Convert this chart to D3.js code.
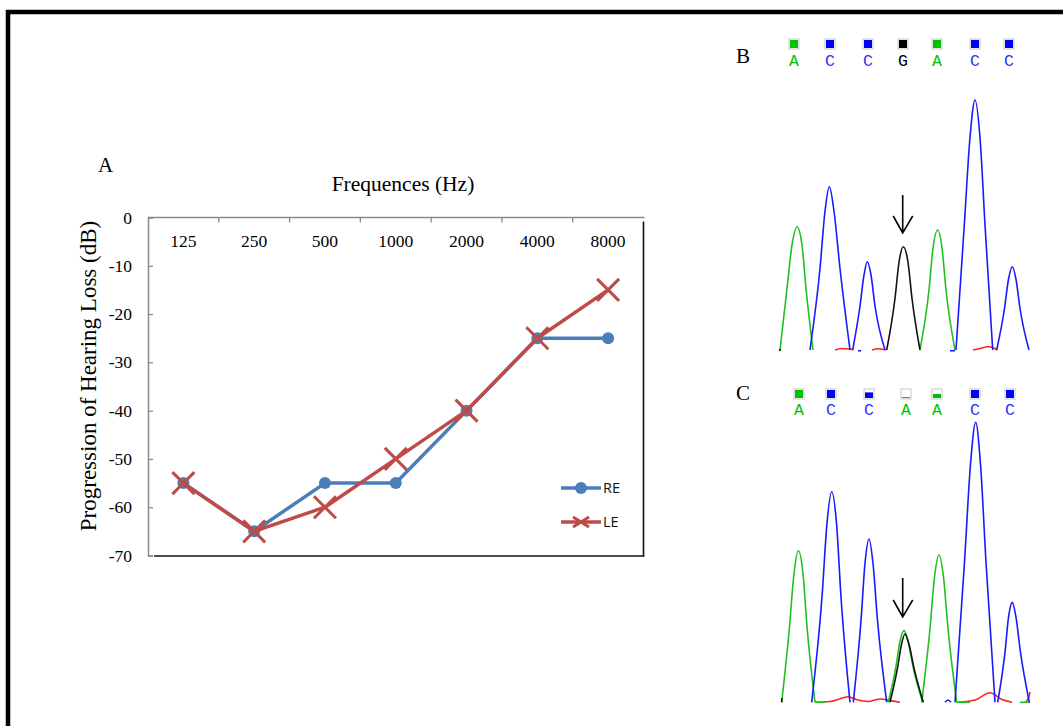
<!DOCTYPE html>
<html><head><meta charset="utf-8">
<script src="https://cdn.jsdelivr.net/npm/d3@7"></script>
<style>
html,body{margin:0;padding:0;background:#fff;overflow:hidden;}
svg{display:block;}
</style></head>
<body>
<svg id="c" width="1063" height="726"></svg>
<script>
// ---------- Panel A data ----------
const frequencies = ["125","250","500","1000","2000","4000","8000"];
const reValues = [-55,-65,-55,-55,-40,-25,-25];
const leValues = [-55,-65,-60,-50,-40,-25,-15];
const yTicks = [0,-10,-20,-30,-40,-50,-60,-70];
const seriesNames = ["RE","LE"];

// ---------- Panels B / C data (scan position, signal intensity) ----------
const baseLettersB = ["A","C","C","G","A","C","C"];
const basePosB = [14,50,88,123,157,195,229];
const baseFillB = [1,1,1,1,1,1,1];
const baseLettersC = ["A","C","C","A","A","C","C"];
const basePosC = [19,51,89,126,157,195,230];
const baseFillC = [1,1,0.7,0.12,0.5,1,1];

const traceB_green = [
  [[0,0],[7,246],[12,420],[17,493],[22,420],[26,246],[33,0]],
  [[140,0],[149,240],[153,408],[157.7,480],[162,408],[166,240],[175,0]]
];
const traceB_blue = [
  [[30,0],[40,326],[45,555],[49.3,653],[54,555],[60,326],[70,0]],
  [[72.7,0],[80,176],[84,300],[87.3,353],[91,300],[95,176],[105,0]],
  [[176,0],[184.3,500],[190,850],[195,1000],[200,850],[205,500],[212.7,0]],
  [[216.7,0],[224.5,166],[228.5,283],[232.3,333],[236,283],[240,166],[249,0]],
  [[78,-3],[81,-3]],[[170,-3],[175,-3]]
];
const traceB_black = [
  [[106.7,0],[115,206],[119,351],[123.3,413],[128,351],[132,206],[140,0]],
  [[0,-4],[0,4]]
];
const traceB_red = [
  [[55,0],[62,6],[70,4],[73,0]],
  [[92,0],[98,5],[106,0]],
  [[193,0],[200,6],[208,13],[214,8],[217,0]]
];

const traceC_green = [
  [[1.7,0],[9.5,270],[14,460],[18.3,541],[23,460],[27,270],[35,0]],
  [[108.3,0],[116,128],[120,218],[124,256],[128,218],[133,128],[142.7,0]],
  [[141.7,0],[150,263],[154.5,447],[159,526],[163.5,447],[168,263],[176.7,0]],
  [[35,0],[45,0]],[[176.7,0],[190,0]],[[240,0],[250,0]]
];
const traceC_blue = [
  [[31.7,0],[42,376],[47,640],[51.7,752],[56.5,640],[61,376],[70,0]],
  [[73.3,0],[81,292],[85,496],[89,583],[93,496],[97.5,292],[106.7,0]],
  [[175,0],[184.5,500],[190.5,850],[195.7,1000],[200.5,850],[206,500],[215,0]],
  [[217.7,0],[225,178],[228.5,303],[232.3,357],[236,303],[240.5,178],[249.3,0]],
  [[165,0],[168,8],[171,0]]
];
const traceC_black = [
  [[110,0],[117.5,122],[121.5,207],[125,244],[129,207],[134,122],[143.3,0]],
  [[1.7,0],[1.7,15]]
];
const traceC_red = [
  [[35,0],[50,3],[58,10],[68,20],[78,8],[88,3],[100,12],[112,5],[120,0]],
  [[178,0],[195,8],[210,34],[222,10],[232,0]],
  [[245,0],[249,20],[250,37]]
];

// ---------- drawing ----------
const svg = d3.select("#c");
const serif = "'Liberation Serif','Times New Roman',serif";
const sans = "'Open Sans','Liberation Sans',Arial,sans-serif";
const mono = "'Liberation Mono','DejaVu Sans Mono',monospace";

// outer frame
svg.append("rect").attr("x",8).attr("y",12).attr("width",1100).attr("height",800)
  .attr("fill","none").attr("stroke","#000").attr("stroke-width",4.5);

// Panel A
const pa = {left:148, right:643.5, top:217.5, bottom:555.5};
const x = d3.scaleBand().domain(frequencies).range([pa.left, pa.right]).padding(0);
const y = d3.scaleLinear().domain([-70,0]).range([pa.bottom, pa.top]);
const gA = svg.append("g");

// right / bottom dark border
gA.append("line").attr("x1",pa.right).attr("x2",pa.right).attr("y1",pa.top+4).attr("y2",pa.bottom+1)
  .attr("stroke","#111").attr("stroke-width",1.6);
gA.append("line").attr("x1",pa.left+6).attr("x2",pa.right+0.8).attr("y1",pa.bottom+0.5).attr("y2",pa.bottom+0.5)
  .attr("stroke","#111").attr("stroke-width",1.6);

// left axis
const yAxis = d3.axisRight(y).tickValues(yTicks).tickSize(5).tickFormat("");
const gy = gA.append("g").attr("transform",`translate(${pa.left},0)`).call(yAxis);
gy.select(".domain").attr("stroke","#8a8a8a").attr("stroke-width",1.5);
gy.selectAll(".tick line").attr("stroke","#8a8a8a").attr("stroke-width",1.3);
gA.selectAll(".ylab").data(yTicks).join("text").attr("class","ylab")
  .attr("x",132).attr("y",d=>y(d)).attr("dy","0.35em").attr("text-anchor","end")
  .attr("font-family",serif).attr("font-size",17.5).attr("fill","#000").text(d=>d);

// top axis
const boundaries = frequencies.slice(1).map(f=>x(f));
gA.append("line").attr("x1",pa.left).attr("x2",pa.right+1).attr("y1",pa.top).attr("y2",pa.top)
  .attr("stroke","#8a8a8a").attr("stroke-width",1.5);
gA.selectAll(".xt").data(boundaries).join("line").attr("class","xt")
  .attr("x1",d=>d).attr("x2",d=>d).attr("y1",pa.top).attr("y2",pa.top+5)
  .attr("stroke","#8a8a8a").attr("stroke-width",1.3);
gA.selectAll(".xlab").data(frequencies).join("text").attr("class","xlab")
  .attr("x",d=>x(d)+x.bandwidth()/2).attr("y",247).attr("text-anchor","middle")
  .attr("font-family",serif).attr("font-size",17.5).attr("fill","#000").text(d=>d);

// titles
gA.append("text").attr("x",403).attr("y",191).attr("text-anchor","middle")
  .attr("font-family",serif).attr("font-size",21.5).text("Frequences (Hz)");
gA.append("text").attr("transform","translate(96,376) rotate(-90)").attr("text-anchor","middle")
  .attr("font-family",serif).attr("font-size",23).text("Progression of Hearing Loss (dB)");
svg.append("text").attr("x",98).attr("y",172).attr("font-family",serif).attr("font-size",21).text("A");

// lines
const blue = "#4a7ebb", red = "#be4b48";
const line = d3.line().x((d,i)=>x(frequencies[i])+x.bandwidth()/2).y(d=>y(d));
gA.append("path").datum(reValues).attr("d",line).attr("fill","none")
  .attr("stroke",blue).attr("stroke-width",3.5).attr("stroke-linejoin","round");
gA.selectAll(".reDot").data(reValues).join("circle").attr("class","reDot")
  .attr("cx",(d,i)=>x(frequencies[i])+x.bandwidth()/2).attr("cy",d=>y(d)).attr("r",6).attr("fill",blue);
gA.append("path").datum(leValues).attr("d",line).attr("fill","none")
  .attr("stroke",red).attr("stroke-width",3.5).attr("stroke-linejoin","round");
const xMark = (s)=>`M${-s},${-s}L${s},${s}M${-s},${s}L${s},${-s}`;
gA.selectAll(".leX").data(leValues).join("path").attr("class","leX")
  .attr("transform",(d,i)=>`translate(${x(frequencies[i])+x.bandwidth()/2},${y(d)})`)
  .attr("d",xMark(11)).attr("stroke",red).attr("stroke-width",3).attr("fill","none");

// legend
const legY = [488,522];
seriesNames.forEach((n,i)=>{
  const col = i===0?blue:red;
  gA.append("line").attr("x1",561).attr("x2",601).attr("y1",legY[i]).attr("y2",legY[i])
    .attr("stroke",col).attr("stroke-width",3.5);
  if(i===0) gA.append("circle").attr("cx",581).attr("cy",legY[i]).attr("r",6).attr("fill",col);
  else gA.append("path").attr("transform",`translate(581,${legY[i]})`)
    .attr("d","M-8,-5L8,5M-8,5L8,-5").attr("stroke",col).attr("stroke-width",3);
  gA.append("text").attr("x",603).attr("y",legY[i]).attr("dy","0.36em")
    .attr("font-family",sans).attr("font-size",14.5).attr("fill","#111").text(n);
});

// ---------- chromatogram panels ----------
const baseColor = {A:"#00c000", C:"#0000ff", G:"#000000", T:"#ff0000"};
function chrom(cfg){
  const xs = d3.scaleLinear().domain([0,250]).range([780,1030]);
  const ys = d3.scaleLinear().domain([0,1000]).range([cfg.base, cfg.top]);
  const g = svg.append("g");
  const ln = d3.line().x(d=>xs(d[0])).y(d=>ys(d[1])).curve(d3.curveMonotoneX);
  const lnL = d3.line().x(d=>xs(d[0])).y(d=>ys(d[1]));
  const draw=(segs,col)=>segs.forEach(s=>{
    g.append("path").attr("d",(s.length>2?ln:lnL)(s)).attr("fill","none")
     .attr("stroke",col).attr("stroke-width",1.6);
  });
  draw(cfg.red,"#ff2020");
  draw(cfg.green,"#20c020");
  draw(cfg.blue,"#1a1aff");
  draw(cfg.black,"#111");
  // base squares & letters
  cfg.pos.forEach((p,i)=>{
    const cx = xs(p), L = cfg.letters[i], col = baseColor[L];
    g.append("rect").attr("x",cx-5).attr("y",cfg.sqY-5).attr("width",10).attr("height",10)
      .attr("fill","#fff").attr("stroke","#d0d0d0").attr("stroke-width",1.2);
    const f = cfg.fill[i];
    g.append("rect").attr("x",cx-4).attr("y",cfg.sqY+4-8*f).attr("width",8).attr("height",8*f)
      .attr("fill",col);
    g.append("text").attr("x",cx).attr("y",cfg.letY).attr("text-anchor","middle")
      .attr("font-family",mono).attr("font-size",16.5).attr("fill",col==="#0000ff"?"#3030ff":col).text(L);
  });
  // arrow
  const ax = xs(cfg.arrowX);
  g.append("path").attr("d",`M${ax},${cfg.arrowTop}L${ax},${cfg.arrowBot}M${ax-9.5},${cfg.arrowBot-17}L${ax},${cfg.arrowBot}L${ax+10},${cfg.arrowBot-17}`)
    .attr("fill","none").attr("stroke","#000").attr("stroke-width",1.6);
  svg.append("text").attr("x",736).attr("y",cfg.labY).attr("font-family",serif).attr("font-size",21).text(cfg.label);
}
chrom({label:"B",labY:63,base:350,top:100,sqY:44,letY:66,pos:basePosB,letters:baseLettersB,fill:baseFillB,
  green:traceB_green,blue:traceB_blue,black:traceB_black,red:traceB_red,arrowX:122.7,arrowTop:195,arrowBot:233});
chrom({label:"C",labY:400,base:702.3,top:422.3,sqY:394,letY:415,pos:basePosC,letters:baseLettersC,fill:baseFillC,
  green:traceC_green,blue:traceC_blue,black:traceC_black,red:traceC_red,arrowX:122.7,arrowTop:578,arrowBot:617});
</script>
</body></html>
